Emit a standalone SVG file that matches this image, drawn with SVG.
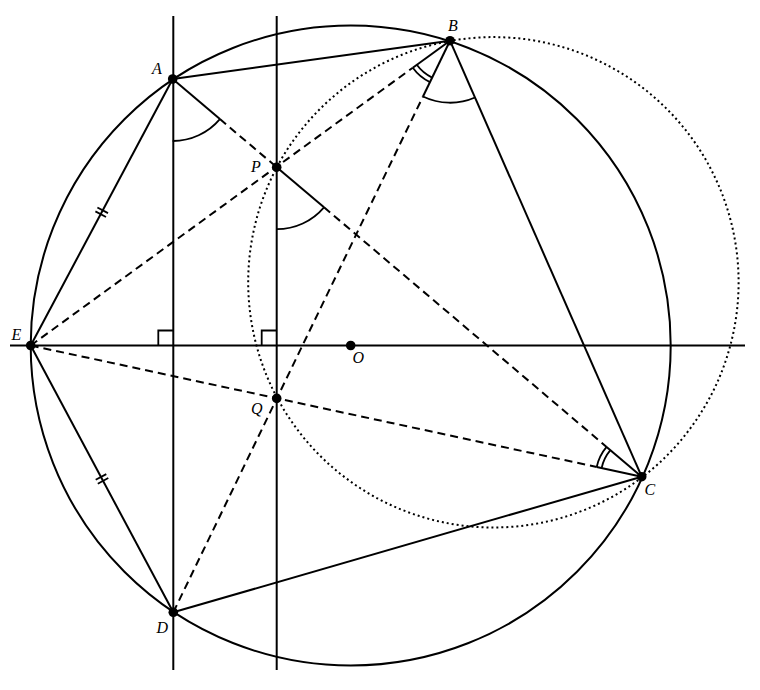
<svg xmlns="http://www.w3.org/2000/svg" width="760" height="690" viewBox="0 0 760 690">
<style>
.s{fill:none;stroke:#000;stroke-width:2;stroke-linecap:butt}
.d{fill:none;stroke:#000;stroke-width:2;stroke-dasharray:8 5}
.t{fill:none;stroke:#000;stroke-width:2;stroke-dasharray:2 3}
.m{fill:none;stroke:#000;stroke-width:1.8}
.pt{fill:#000}
.lb{font-family:"Liberation Serif","Times New Roman",serif;font-style:italic;font-size:16px;fill:#000}
</style>
<rect width="760" height="690" fill="#fff"/>
<g id="circles">
<circle class="s" cx="350.7" cy="345.5" r="320"/>
<circle class="t" cx="493.4" cy="282.3" r="245.2"/>
</g>
<g id="connectors">
<line class="s" x1="173.3" y1="16" x2="173.3" y2="670"/>
<line class="s" x1="276.7" y1="16" x2="276.7" y2="670"/>
<line class="s" x1="10" y1="345.5" x2="745" y2="345.5"/>
<line class="s" x1="172.7" y1="79" x2="450" y2="40.7"/>
<line class="s" x1="450" y1="40.7" x2="641.7" y2="476.7"/>
<line class="s" x1="641.7" y1="476.7" x2="173.3" y2="612.3"/>
<line class="s" x1="173.3" y1="612.3" x2="30.7" y2="345.5"/>
<line class="s" x1="30.7" y1="345.5" x2="172.7" y2="79"/>
<line class="s" x1="172.7" y1="79" x2="219.9" y2="119.1"/>
<line class="d" x1="219.9" y1="119.1" x2="276.7" y2="167.2"/>
<line class="s" x1="276.7" y1="167.2" x2="324.0" y2="207.3"/>
<line class="d" x1="324.0" y1="207.3" x2="606.6" y2="446.9"/>
<line class="s" x1="606.6" y1="446.9" x2="641.7" y2="476.7"/>
<line class="d" x1="30.7" y1="345.5" x2="412.8" y2="67.7"/>
<line class="s" x1="412.8" y1="67.7" x2="450" y2="40.7"/>
<line class="d" x1="173.3" y1="612.3" x2="423.0" y2="96.5"/>
<line class="s" x1="423.0" y1="96.5" x2="450" y2="40.7"/>
<line class="d" x1="30.7" y1="345.5" x2="596.7" y2="467.0"/>
<line class="s" x1="596.7" y1="467.0" x2="641.7" y2="476.7"/>
</g>
<g id="marks">
<path class="m" d="M172.7,141 A62,62 0 0 0 219.9,119.1"/>
<path class="m" d="M276.7,229.2 A62,62 0 0 0 324.0,207.3"/>
<path class="m" d="M412.8,67.7 A46,46 0 0 0 430.0,82.1"/>
<path class="m" d="M416.8,64.8 A41,41 0 0 0 432.1,77.6"/>
<path class="m" d="M423.0,96.5 A62,62 0 0 0 475.0,97.5"/>
<path class="m" d="M606.6,446.9 A46,46 0 0 0 596.7,467.0"/>
<path class="m" d="M610.4,450.2 A41,41 0 0 0 601.6,468.1"/>
<path class="m" d="M158.3,345.5 V330.5 H173.3"/>
<path class="m" d="M261.7,345.5 V330.5 H276.7"/>
<path class="m" d="M97.4,207.5 L108.0,213.1 M95.4,211.4 L106.0,217.0"/>
<path class="m" d="M97.8,483.7 L108.3,478.0 M95.7,479.8 L106.3,474.1"/>
</g>
<g id="node-A"><circle class="pt" cx="172.7" cy="79" r="4.8"/><text class="lb" x="152" y="74">A</text></g>
<g id="node-B"><circle class="pt" cx="450" cy="40.7" r="4.8"/><text class="lb" x="448" y="30.5">B</text></g>
<g id="node-C"><circle class="pt" cx="641.7" cy="476.7" r="4.8"/><text class="lb" x="644.5" y="494.5">C</text></g>
<g id="node-D"><circle class="pt" cx="173.3" cy="612.3" r="4.8"/><text class="lb" x="156.5" y="633">D</text></g>
<g id="node-E"><circle class="pt" cx="30.7" cy="345.5" r="4.8"/><text class="lb" x="11.5" y="340">E</text></g>
<g id="node-O"><circle class="pt" cx="350.7" cy="345.5" r="4.8"/><text class="lb" x="352.5" y="363">O</text></g>
<g id="node-P"><circle class="pt" cx="276.7" cy="167.2" r="4.8"/><text class="lb" x="251" y="171.5">P</text></g>
<g id="node-Q"><circle class="pt" cx="276.7" cy="398.4" r="4.8"/><text class="lb" x="251" y="413.5">Q</text></g>
</svg>
